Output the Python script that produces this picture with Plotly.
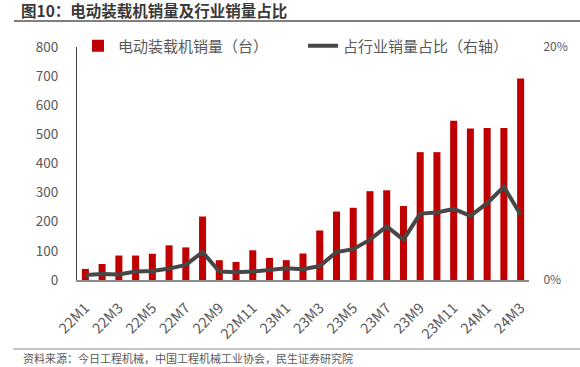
import plotly.graph_objects as go

categories = ["22M1", "22M2", "22M3", "22M4", "22M5", "22M6", "22M7", "22M8", "22M9",
              "22M10", "22M11", "22M12", "23M1", "23M2", "23M3", "23M4", "23M5", "23M6",
              "23M7", "23M8", "23M9", "23M10", "23M11", "23M12", "24M1", "24M2", "24M3"]
sales = [38, 55, 84, 84, 90, 119, 112, 218, 68, 62, 102, 76, 68, 91, 170, 235, 248, 305,
         308, 254, 439, 439, 547, 520, 522, 522, 692]
share_pct = [0.43, 0.52, 0.48, 0.72, 0.78, 0.98, 1.3, 2.4, 0.72, 0.66, 0.72, 0.86, 1.0, 0.92,
             1.2, 2.4, 2.65, 3.46, 4.6, 3.46, 5.7, 5.8, 6.1, 5.5, 6.6, 8.0, 5.6]
x_ticks = ["22M1", "22M3", "22M5", "22M7", "22M9", "22M11", "23M1", "23M3", "23M5",
           "23M7", "23M9", "23M11", "24M1", "24M3"]
share = [v / 100 for v in share_pct]

FONT = "Noto Sans CJK SC"
TXT = "#595959"

fig = go.Figure()
fig.add_trace(go.Bar(x=categories, y=sales, name="电动装载机销量（台）",
                     marker=dict(color="#C00000", line=dict(width=0))))
fig.add_trace(go.Scatter(x=categories, y=share, name="占行业销量占比（右轴）", yaxis="y2",
                         mode="lines", line=dict(color="#474747", width=4)))

W, H = 580, 367
L, R, T, B = 77, 51, 47, 87
pw, ph = W - L - R, H - T - B

def px(x):
    return (x - L) / pw

def py(y):
    return (H - B - y) / ph

fig.update_layout(
    width=W, height=H,
    margin=dict(l=L, r=R, t=T, b=B, autoexpand=False),
    paper_bgcolor="white", plot_bgcolor="white",
    font=dict(family=FONT, size=13, color=TXT),
    bargap=0.58,
    showlegend=True,
    legend=dict(orientation="h", x=px(78), xanchor="left", y=py(46), yanchor="middle",
                font=dict(size=15, color=TXT), bgcolor="rgba(0,0,0,0)",
                entrywidth=180, entrywidthmode="pixels", itemwidth=30,
                traceorder="normal"),
    title=dict(text="<b>图10：电动装载机销量及行业销量占比</b>", x=21 / W, xanchor="left",
               y=1 - 12 / H, yanchor="middle", xref="container", yref="container",
               font=dict(family=FONT, size=15.5, color="#3a3a3a")),
    xaxis=dict(type="category", categoryorder="array", categoryarray=categories,
               tickmode="array", tickvals=x_ticks, ticktext=x_ticks, tickangle=-45,
               showline=True, linecolor="#8c8c8c", linewidth=1.5,
               ticks="outside", ticklen=12, tickcolor="rgba(0,0,0,0)",
               showgrid=False, automargin=False, tickfont=dict(size=14.5, color=TXT)),
    yaxis=dict(range=[0, 800], dtick=100, showgrid=False, showline=True,
               linecolor="#404040", linewidth=1, ticks="outside", ticklen=15,
               tickcolor="rgba(0,0,0,0)", automargin=False,
               tickfont=dict(size=13.5, color=TXT), zeroline=False),
    yaxis2=dict(range=[0, 0.20], overlaying="y", side="right", tickmode="array",
                tickvals=[0, 0.20], ticktext=["0%", "20%"], showgrid=False, showline=False,
                ticks="outside", ticklen=11, tickcolor="rgba(0,0,0,0)", automargin=False,
                tickfont=dict(size=12, color=TXT), zeroline=False),
    shapes=[
        dict(type="line", xref="paper", yref="paper", x0=px(14), x1=px(580), y0=py(21), y1=py(21),
             line=dict(color="#555555", width=1.5)),
        dict(type="line", xref="paper", yref="paper", x0=px(13), x1=px(580), y0=py(349), y1=py(349),
             line=dict(color="#8c8c8c", width=1)),
    ],
    annotations=[
        dict(text="资料来源：今日工程机械，中国工程机械工业协会，民生证券研究院", xref="paper", yref="paper",
             x=px(21), y=py(358), xanchor="left", yanchor="middle", showarrow=False,
             font=dict(family=FONT, size=11, color=TXT)),
    ],
)

fig.write_html("out.html", config={"displayModeBar": False},
               post_script="document.body.style.margin='0px';document.body.style.overflow='hidden';")
